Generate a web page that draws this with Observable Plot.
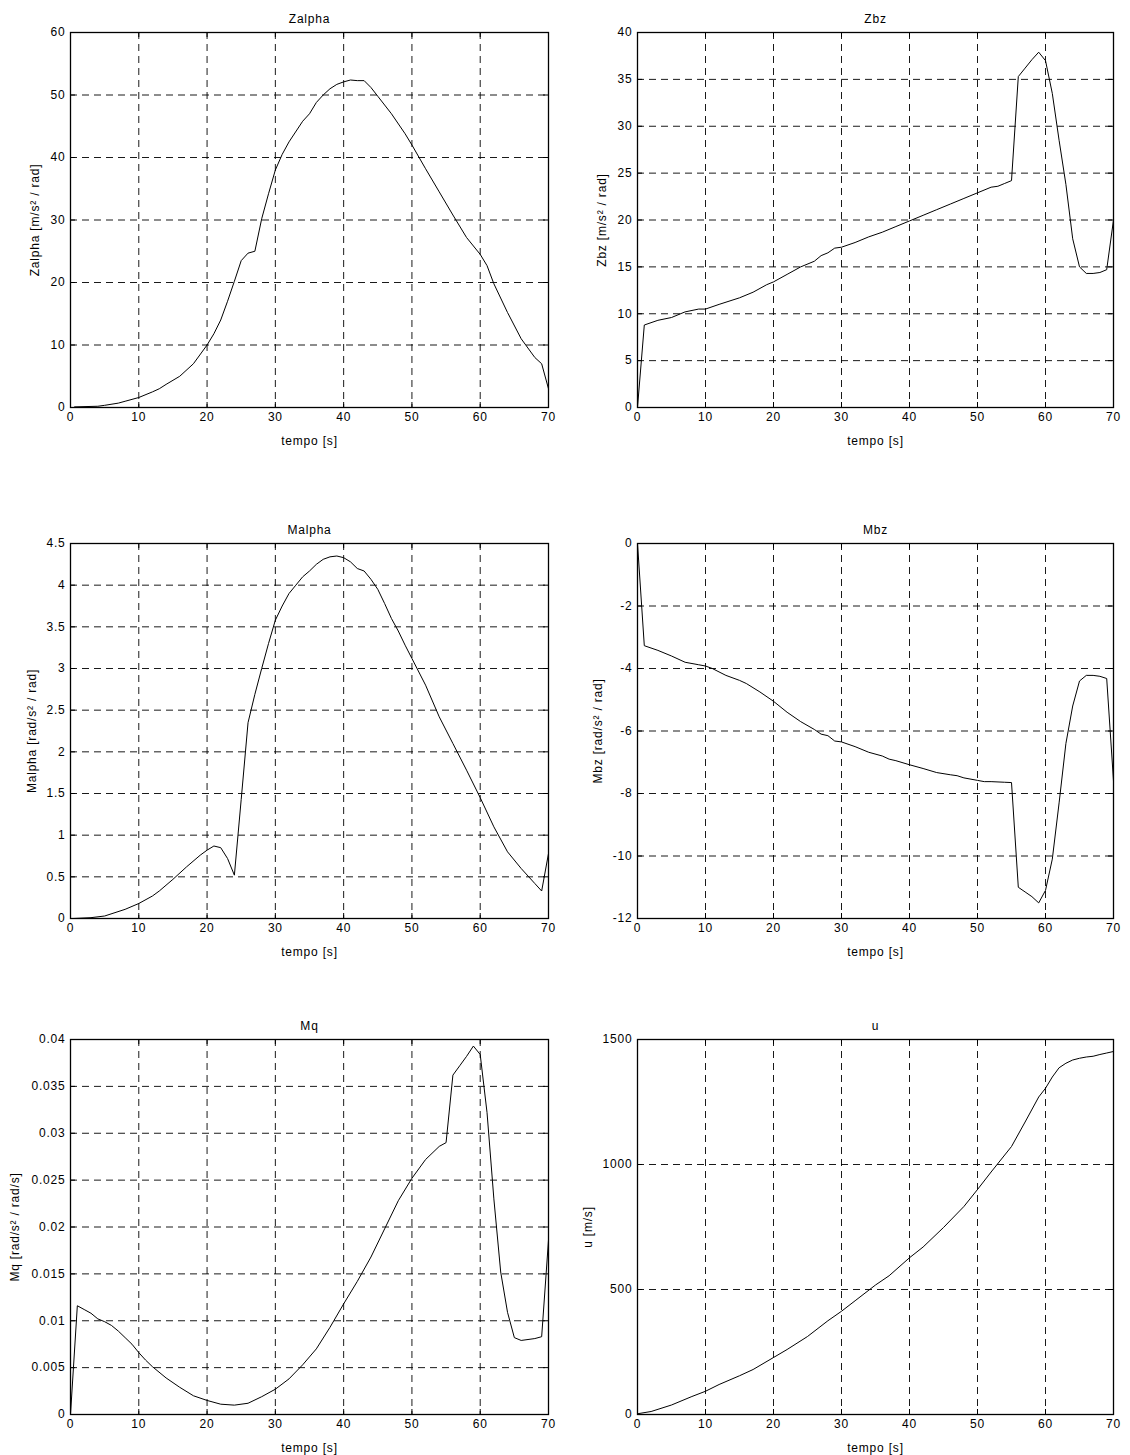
<!DOCTYPE html>
<html><head><meta charset="utf-8">
<script src="https://cdn.jsdelivr.net/npm/d3@7"></script>
<script src="https://cdn.jsdelivr.net/npm/@observablehq/plot@0.6"></script>
<style>
html,body{margin:0;padding:0;background:#fff;overflow:hidden}
#page{position:relative;width:1130px;height:1455px;background:#fff}
#page svg{position:absolute}
</style></head><body><div id="page"></div>
<script>
// shared x ticks (tempo [s])
const xTicks = [0, 10, 20, 30, 40, 50, 60, 70];

// Zalpha
const zalphaT = [0.6,4,5,7,8,10,12,13,14,16,18,20,21,22,23,24,25,26,27,28,29,30,31,32,34,35,36,37,38,39,40,41,42,43,44,45,47,49,50,52,54,56,58,60,61,62,64,66,68,69,70];
const zalphaV = [0.1,0.2,0.35,0.7,1.0,1.6,2.5,3.0,3.7,5.0,7.0,10.0,11.8,14.0,17.0,20.2,23.5,24.7,25.0,30.2,34.2,38.0,40.5,42.5,45.8,47.0,48.8,50.0,51.0,51.7,52.1,52.4,52.3,52.3,51.2,49.8,47.0,43.8,42.0,38.2,34.5,30.8,27.2,24.5,22.7,19.8,15.2,11.0,8.0,7.0,3.0];
const zalphaTicks = [0, 10, 20, 30, 40, 50, 60];

// Zbz
const zbzT = [0,1,3,5,7,9,10,12,15,17,19,20,22,24,26,27,28,29,30,32,34,36,38,40,42,44,46,48,50,52,53,54,55,56,57,58,59,60,61,62,63,64,65,66,67,68,69,70];
const zbzV = [0,8.8,9.3,9.6,10.2,10.5,10.5,11.0,11.7,12.3,13.1,13.4,14.2,15.0,15.6,16.2,16.5,17.0,17.1,17.6,18.2,18.7,19.3,19.9,20.5,21.1,21.7,22.3,22.9,23.5,23.6,23.9,24.2,35.3,36.2,37.1,37.9,37.0,33.5,28.5,23.8,18.0,15.0,14.3,14.3,14.4,14.7,20.0];
const zbzTicks = [0, 5, 10, 15, 20, 25, 30, 35, 40];

// Malpha
const malphaT = [0.4,3,5,8,10,12,13,15,17,19,20,21,22,23,24,25,26,27,28,29,30,31,32,33,34,35,36,37,38,39,40,41,42,43,44,45,46,47,48,49,50,52,54,56,58,60,62,64,66,68,69,70];
const malphaV = [0,0.01,0.03,0.11,0.18,0.27,0.33,0.47,0.62,0.76,0.82,0.87,0.85,0.72,0.52,1.43,2.35,2.69,3.0,3.3,3.58,3.75,3.9,4.0,4.1,4.17,4.25,4.31,4.34,4.35,4.33,4.28,4.2,4.17,4.07,3.95,3.78,3.6,3.45,3.28,3.12,2.8,2.42,2.1,1.78,1.45,1.1,0.8,0.6,0.42,0.33,0.78];
const malphaTicks = [0, 0.5, 1, 1.5, 2, 2.5, 3, 3.5, 4, 4.5];

// Mbz
const mbzT = [0,1,3,5,7,9,10,11,13,15,16,18,20,22,24,26,27,28,29,30,32,34,36,37,38,40,42,44,46,47,48,50,51,52,54,55,56,57,58,59,60,61,62,63,64,65,66,67,68,69,70];
const mbzV = [0,-3.27,-3.42,-3.6,-3.8,-3.88,-3.92,-4.0,-4.22,-4.38,-4.48,-4.75,-5.05,-5.4,-5.7,-5.95,-6.1,-6.15,-6.32,-6.35,-6.5,-6.68,-6.8,-6.9,-6.95,-7.08,-7.2,-7.33,-7.4,-7.43,-7.5,-7.58,-7.62,-7.62,-7.64,-7.65,-11.0,-11.15,-11.3,-11.5,-11.1,-10.1,-8.3,-6.4,-5.2,-4.4,-4.22,-4.22,-4.25,-4.32,-7.6];
const mbzTicks = [-12, -10, -8, -6, -4, -2, 0];

// Mq
const mqT = [0,1,2,3,4,5,6,7,8,9,10,11,12,14,16,18,20,22,24,26,28,30,32,34,36,38,40,42,44,46,48,50,52,54,55,56,57,58,59,60,61,62,63,64,65,66,67,68,69,70];
const mqV = [0,0.0116,0.0112,0.0108,0.0102,0.0099,0.0095,0.0089,0.0082,0.0075,0.0066,0.0058,0.0051,0.0039,0.0029,0.0020,0.0015,0.0011,0.0010,0.0012,0.0019,0.0027,0.0038,0.0053,0.0070,0.0093,0.0118,0.0142,0.0168,0.0198,0.0228,0.0252,0.0272,0.0286,0.0290,0.0362,0.0372,0.0382,0.0393,0.0384,0.0322,0.0230,0.0152,0.0109,0.0082,0.0079,0.0080,0.0081,0.0083,0.0186];
const mqTicks = [0, 0.005, 0.01, 0.015, 0.02, 0.025, 0.03, 0.035, 0.04];

// u
const uT = [0,2,5,8,10,12,15,17,20,22,25,28,30,32,35,37,40,42,45,48,50,52,55,57,59,60,61,62,63,64,65,66,67,68,69,70];
const uV = [3,12,38,72,93,120,155,180,228,260,312,375,413,455,518,555,627,670,748,832,900,970,1072,1170,1270,1305,1350,1387,1405,1418,1425,1430,1433,1440,1446,1452];
const uTicks = [0, 500, 1000, 1500];

const panels = [
  {title: "Zalpha", ylabel: "Zalpha [m/s² / rad]", t: zalphaT, v: zalphaV, ticks: zalphaTicks, col: 0, top: 0, lo: 40},
  {title: "Zbz", ylabel: "Zbz [m/s² / rad]", t: zbzT, v: zbzV, ticks: zbzTicks, col: 1, top: 0, lo: 40},
  {title: "Malpha", ylabel: "Malpha [rad/s² / rad]", t: malphaT, v: malphaV, ticks: malphaTicks, col: 0, top: 511, lo: 43},
  {title: "Mbz", ylabel: "Mbz [rad/s² / rad]", t: mbzT, v: mbzV, ticks: mbzTicks, col: 1, top: 511, lo: 44},
  {title: "Mq", ylabel: "Mq [rad/s² / rad/s]", t: mqT, v: mqV, ticks: mqTicks, col: 0, top: 1007, lo: 60},
  {title: "u", ylabel: "u [m/s]", t: uT, v: uV, ticks: uTicks, col: 1, top: 1007, lo: 54}
];

const page = document.getElementById("page");
const W = 565, H = 449, MT = 32, MB = 42, MR = 17;
for (const p of panels) {
  const ML = p.col === 0 ? 70 : 72;
  const fw = W - ML - MR, fh = H - MT - MB;
  const rows = p.t.map((t, i) => ({t, v: p.v[i]}));
  const grid = {stroke: "#000", strokeOpacity: 1, strokeWidth: 0.9, strokeDasharray: "7,5"};
  const svg = Plot.plot({
    width: W, height: H, marginTop: MT, marginBottom: MB, marginLeft: ML, marginRight: MR,
    style: {fontFamily: "'Liberation Sans', Arial, sans-serif", fontSize: "12px", letterSpacing: "0.8px", color: "#000", background: "#fff"},
    x: {domain: [xTicks[0], xTicks[xTicks.length - 1]]},
    y: {domain: [p.ticks[0], p.ticks[p.ticks.length - 1]]},
    marks: [
      Plot.gridX(xTicks, grid),
      Plot.gridY(p.ticks, grid),
      Plot.tickX(xTicks, {x: d => d, stroke: "#000", insetTop: fh - 5}),
      Plot.tickX(xTicks, {x: d => d, stroke: "#000", insetBottom: fh - 5}),
      Plot.tickY(p.ticks, {y: d => d, stroke: "#000", insetRight: fw - 5}),
      Plot.tickY(p.ticks, {y: d => d, stroke: "#000", insetLeft: fw - 5}),
      Plot.lineY(rows, {x: "t", y: "v", stroke: "#000", strokeWidth: 1}),
      Plot.frame({stroke: "#000", strokeWidth: 1.3}),
      Plot.axisX(xTicks, {tickSize: 0, tickPadding: 5, tickFormat: String, label: "tempo [s]", labelAnchor: "center", labelOffset: 37, labelArrow: "none"}),
      Plot.axisY(p.ticks, {tickSize: 0, tickPadding: 5, tickFormat: String, label: p.ylabel, labelAnchor: "center", labelOffset: p.lo, labelArrow: "none"}),
      Plot.text([p.title], {text: d => d, frameAnchor: "top", dy: -18, fontSize: 12})
    ]
  });
  svg.style.left = (p.col === 0 ? 0 : 565) + "px";
  svg.style.top = p.top + "px";
  page.appendChild(svg);
}
</script></body></html>
